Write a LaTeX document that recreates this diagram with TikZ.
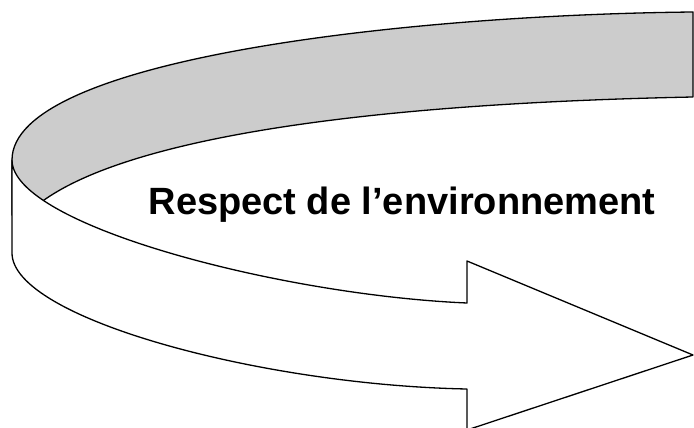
\documentclass[tikz,border=0pt]{standalone}
\usepackage{fontspec}
\setmainfont{Liberation Sans}
\definecolor{grisruban}{RGB}{204,204,204}
\begin{document}
\begin{tikzpicture}[line join=round, line cap=round, line width=1.3pt, x=1pt, y=-1pt]
	\tikzset{ruban/.style={draw=black}, titre style/.style={font=\bfseries\fontsize{38}{45}\selectfont}}
	\useasboundingbox (0,0) rectangle (694,428);
	\clip (0,0) rectangle (694,428);
	% bande arriere (grise)
	\draw[ruban, fill=grisruban] (693,12) .. controls (400,15) and (12,60) .. (12,160) -- (12,215) -- (40,203) .. controls (110,150) and (300,105) .. (693,97) -- cycle;
	% bande avant et fleche
	\draw[ruban, fill=white] (12,160) .. controls (12,225) and (280,295) .. (467,303) -- (467,261) -- (693,355) -- (467,430) -- (467,389) .. controls (260,385) and (12,318) .. (12,253) -- cycle;
	\node[titre style, anchor=base] (titre) at (402,214) {Respect de l’environnement};
\end{tikzpicture}
\end{document}
